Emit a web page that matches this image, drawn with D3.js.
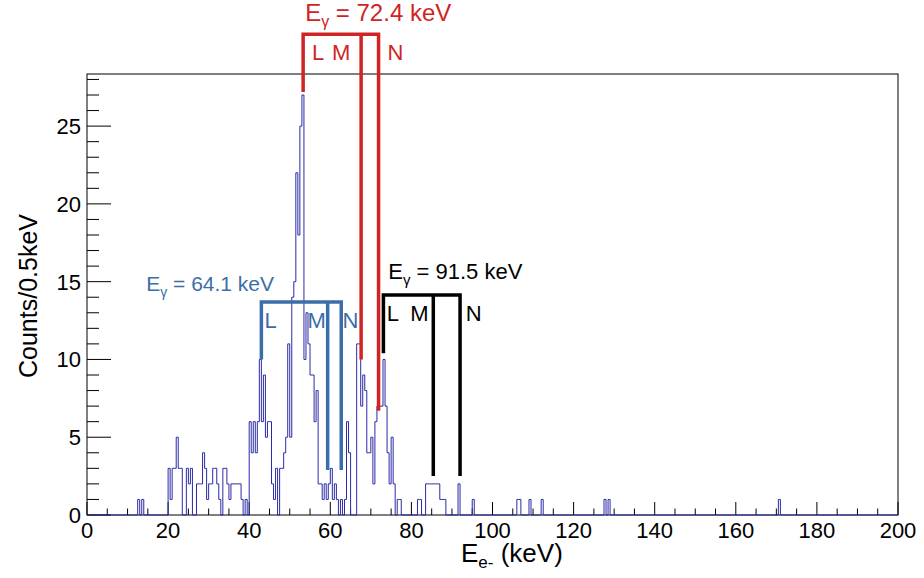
<!DOCTYPE html>
<html><head><meta charset="utf-8">
<script src="https://cdn.jsdelivr.net/npm/d3@7"></script>
<style>body{margin:0;background:#fff}svg{display:block}</style>
</head><body>
<svg id="c" width="924" height="578"></svg>
<script>
// ---- data ----
const binWidth = 0.5;            // keV per bin
const xMin = 0, xMax = 200;      // keV
const yMax = 28.35;              // counts (27 * 1.05)
const denseStartKeV = 20.0;      // first bin of the dense block
const denseCounts = [
  3,1,3,3,5,3,3,0,0,3,
  2,3,0,0,2,2,2,4,3,1,
  2,2,3,3,2,1,0,3,3,2,
  1,2,2,2,2,2,1,0,1,0,
  6,4,6,4,6,10,6,9,5,6,
  6,2,1,3,0,3,3,4,5,11,
  5,14,15,22,18,25,27,10,13,11,
  9,9,6,8,2,2,1,2,1,2,
  3,1,2,1,0,1,0,1,6,4,
  0,0,0,11,11,7,9,8,4,4,
  5,2,6,7,7,7,10,7,4,2,
  5,2,0,1,1,0,0,0,0,0,
  0,0,0,1,1,0,0,2,2,2,
  2,2,2,2,1,1,1,0,0,0,
  0,0,0,2,0,0,0,0,0,0,
  1
];
const sparseKeV = [12.5, 13.5, 106.0, 106.5, 109.0, 112.0, 127.5, 128.5, 170.5];
const sparseCounts = [1, 1, 1, 1, 1, 1, 1, 1, 1];

const xTicksMajor = [0, 20, 40, 60, 80, 100, 120, 140, 160, 180, 200];
const yTicksMajor = [0, 5, 10, 15, 20, 25];

// conversion-electron markers
const markerEnergies = ["72.4", "64.1", "91.5"];
const markerColors = ["#d02424", "#3b6ea8", "#000000"];
const markerShells = [[53.3, 67.6, 71.9], [43.0, 59.35, 62.7], [73.1, 85.4, 92.0]];
const markerTop = [30.9, 13.7, 14.15];
const markerBottoms = [[27.2, 10.0, 6.7], [10.0, 2.9, 2.9], [10.4, 2.5, 2.5]];
const markerTitlePos = [[53.8, 31.75], [14.6, 14.4], [74.3, 15.15]];
const markerTitleSize = [24, 21, 22];
const markerShellLabelPos = [
  [[55.5, 29.25], [60.4, 29.25], [74.1, 29.25]],
  [[43.8, 12.05], [54.4, 12.05], [63.0, 12.05]],
  [[73.9, 12.45], [79.7, 12.45], [93.4, 12.45]]
];

// ---- build histogram ----
const nBins = Math.round((xMax - xMin) / binWidth);
const counts = new Array(nBins).fill(0);
const d0 = Math.round(denseStartKeV / binWidth);
denseCounts.forEach((c, i) => counts[d0 + i] = c);
sparseKeV.forEach((k, i) => counts[Math.round(k / binWidth)] = sparseCounts[i]);

const svg = d3.select("#c");
const L = 87, R = 898, T = 74, B = 515;
const x = d3.scaleLinear().domain([xMin, xMax]).range([L, R]);
const y = d3.scaleLinear().domain([0, yMax]).range([B, T]);
const font = "'Liberation Sans', Arial, Helvetica, sans-serif";

// frame
svg.append("rect").attr("x", L).attr("y", T).attr("width", R - L).attr("height", B - T)
  .attr("fill", "none").attr("stroke", "#000").attr("stroke-width", 1);

// x ticks
const xMinor = d3.range(0, 200.01, 5);
svg.append("g").selectAll("line").data(xMinor).join("line")
  .attr("x1", d => x(d)).attr("x2", d => x(d))
  .attr("y1", B).attr("y2", d => B - (d % 20 === 0 ? 13 : 6.5))
  .attr("stroke", "#000").attr("stroke-width", 1);
svg.append("g").selectAll("text").data(xTicksMajor).join("text")
  .attr("x", d => x(d)).attr("y", 538).attr("text-anchor", "middle")
  .attr("font-family", font).attr("font-size", 22).text(d => d);

// y ticks
const yMinor = d3.range(0, 28.01, 1);
svg.append("g").selectAll("line").data(yMinor).join("line")
  .attr("y1", d => y(d)).attr("y2", d => y(d))
  .attr("x1", L).attr("x2", d => L + (d % 5 === 0 ? 24 : 12))
  .attr("stroke", "#000").attr("stroke-width", 1);
svg.append("g").selectAll("text").data(yTicksMajor).join("text")
  .attr("x", 81).attr("y", d => y(d) + 8).attr("text-anchor", "end")
  .attr("font-family", font).attr("font-size", 22).text(d => d);

// axis titles
const xt = svg.append("text").attr("x", 461).attr("y", 562)
  .attr("font-family", font).attr("font-size", 26);
xt.append("tspan").text("E");
xt.append("tspan").attr("font-size", 17).attr("dy", 6).text("e-");
xt.append("tspan").attr("dy", -6).text(" (keV)");

svg.append("text").attr("transform", "translate(37,296) rotate(-90)")
  .attr("text-anchor", "middle").attr("font-family", font).attr("font-size", 25)
  .text("Counts/0.5keV");

// histogram outline
const pts = [[xMin, 0]];
counts.forEach((c, i) => { pts.push([xMin + i * binWidth, c]); pts.push([xMin + (i + 1) * binWidth, c]); });
pts.push([xMax, 0]);
svg.append("path").datum(pts)
  .attr("d", d3.line().x(d => x(d[0])).y(d => y(d[1])))
  .attr("fill", "none").attr("stroke", "#2a2aa8").attr("stroke-width", 1);

// markers
markerColors.forEach((col, m) => {
  const g = svg.append("g");
  const sh = markerShells[m];
  g.append("path")
    .attr("d", d3.line()([[x(sh[0]), y(markerBottoms[m][0])], [x(sh[0]), y(markerTop[m])], [x(sh[2]), y(markerTop[m])], [x(sh[2]), y(markerBottoms[m][2])]]))
    .attr("fill", "none").attr("stroke", col).attr("stroke-width", 3.5).attr("stroke-linejoin", "miter");
  g.append("line").attr("x1", x(sh[1])).attr("x2", x(sh[1]))
    .attr("y1", y(markerTop[m])).attr("y2", y(markerBottoms[m][1]))
    .attr("stroke", col).attr("stroke-width", 3.5);
  const tp = markerTitlePos[m];
  const fs = markerTitleSize[m];
  const t = g.append("text").attr("x", x(tp[0])).attr("y", y(tp[1]))
    .attr("font-family", font).attr("font-size", fs).attr("fill", col);
  t.append("tspan").text("E");
  t.append("tspan").attr("font-size", Math.round(fs * 0.68)).attr("dy", 6).text("\u03b3");
  t.append("tspan").attr("dy", -6).text(" = " + markerEnergies[m] + " keV");
  ["L", "M", "N"].forEach((s, k) => {
    const p = markerShellLabelPos[m][k];
    g.append("text").attr("x", x(p[0])).attr("y", y(p[1]))
      .attr("font-family", font).attr("font-size", 22).attr("fill", col).text(s);
  });
});
</script>
</body></html>
